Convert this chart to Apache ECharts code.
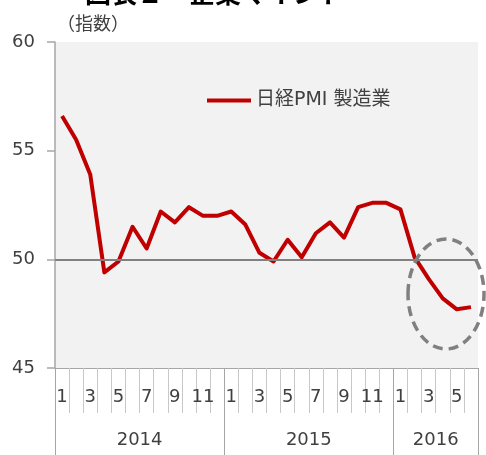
<!DOCTYPE html>
<html>
<head>
<meta charset="utf-8">
<script src="https://cdn.jsdelivr.net/npm/echarts@6/dist/echarts.min.js"></script>
<style>
html,body{margin:0;padding:0;background:#fff;}
#chart{width:486px;height:455px;}
</style>
</head>
<body>
<div id="chart"></div>
<script>
// ---- data ----
const years = ['2014', '2015', '2016'];
const monthsPerYear = [12, 12, 6];
const seriesName = '日経PMI 製造業';
const pmi = [
  56.6, 55.5, 53.9, 49.4, 49.9, 51.5, 50.5, 52.2, 51.7, 52.4, 52.0, 52.0,
  52.2, 51.6, 50.3, 49.9, 50.9, 50.1, 51.2, 51.7, 51.0, 52.4, 52.6, 52.6,
  52.3, 50.1, 49.1, 48.2, 47.7, 47.8
];
const yTicks = [45, 50, 55, 60];
const threshold = 50;
const titleText = '図表２　企業マインド';
const unitText = '（指数）';

// ---- derived axis data ----
const monthLabels = [];
monthsPerYear.forEach(n => { for (let m = 1; m <= n; m++) monthLabels.push(String(m)); });
const total = monthLabels.length;
const yearAxisData = new Array(total + 1).fill('');
const boundaries = [0];
let acc = 0;
monthsPerYear.forEach((n, i) => {
  yearAxisData[acc + n / 2] = years[i];
  acc += n;
  boundaries.push(acc);
});

const latin = "'DejaVu Sans', 'Noto Sans CJK JP', sans-serif";
const cjk = "'Noto Sans CJK JP', 'DejaVu Sans', sans-serif";

const chart = echarts.init(document.getElementById('chart'));
chart.setOption({
  animation: false,
  backgroundColor: '#ffffff',
  title: [
    { text: titleText, left: 80, top: -25,
      textStyle: { fontSize: 26, fontWeight: 'bold', color: '#000', fontFamily: cjk } },
    { text: unitText, left: 52, top: 9,
      textStyle: { fontSize: 18, fontWeight: 'normal', color: '#404040', fontFamily: cjk } }
  ],
  legend: {
    data: [seriesName], left: 202, top: 86,
    icon: 'rect', itemWidth: 44, itemHeight: 4, itemGap: 10,
    textStyle: { fontSize: 19, color: '#404040', fontFamily: latin }
  },
  grid: {
    left: 55, right: 8, top: 42, bottom: 87,
    show: true, backgroundColor: '#f2f2f2', borderWidth: 0
  },
  xAxis: [
    {
      type: 'category', data: monthLabels, position: 'bottom', boundaryGap: true,
      axisLine: { show: true, lineStyle: { color: '#a6a6a6', width: 1 } },
      axisTick: { show: true, length: 45, alignWithLabel: false, interval: 0,
        lineStyle: { color: '#c8c8c8', width: 1 } },
      axisLabel: { interval: 1, margin: 20, fontSize: 18, color: '#404040', fontFamily: latin },
      splitLine: { show: false }
    },
    {
      type: 'category', data: yearAxisData, position: 'bottom', boundaryGap: false,
      axisLine: { show: false },
      axisTick: { show: true, length: 87, interval: (i) => boundaries.includes(i),
        lineStyle: { color: '#a6a6a6', width: 1 } },
      axisLabel: { interval: (i, v) => v !== '', margin: 63, fontSize: 18,
        color: '#404040', fontFamily: latin, showMinLabel: true, showMaxLabel: true },
      splitLine: { show: false }
    }
  ],
  yAxis: {
    type: 'value', min: yTicks[0], max: yTicks[yTicks.length - 1], interval: 5,
    axisLine: { show: true, lineStyle: { color: '#a6a6a6', width: 1.5 } },
    axisTick: { show: true, length: 8, lineStyle: { color: '#a6a6a6', width: 1.5 } },
    axisLabel: { margin: 20, fontSize: 18, color: '#404040', fontFamily: latin },
    splitLine: { show: false }
  },
  series: [{
    name: seriesName, type: 'line', data: pmi, xAxisIndex: 0,
    showSymbol: false, symbol: 'none',
    lineStyle: { color: '#c00000', width: 4, join: 'round' },
    itemStyle: { color: '#c00000' },
    markLine: {
      silent: true, symbol: ['none', 'none'], label: { show: false },
      lineStyle: { color: '#808080', width: 2, type: 'solid' },
      data: [{ yAxis: threshold }]
    },
    z: 3
  }]
});

// dashed ellipse annotation around the last months
chart.setOption({
  graphic: [{
    type: 'ellipse', z: 100,
    shape: { cx: 446, cy: 294, rx: 38, ry: 55 },
    style: { fill: 'none', stroke: '#808080', lineWidth: 3.5, lineDash: [10, 6] }
  }]
});
</script>
</body>
</html>
